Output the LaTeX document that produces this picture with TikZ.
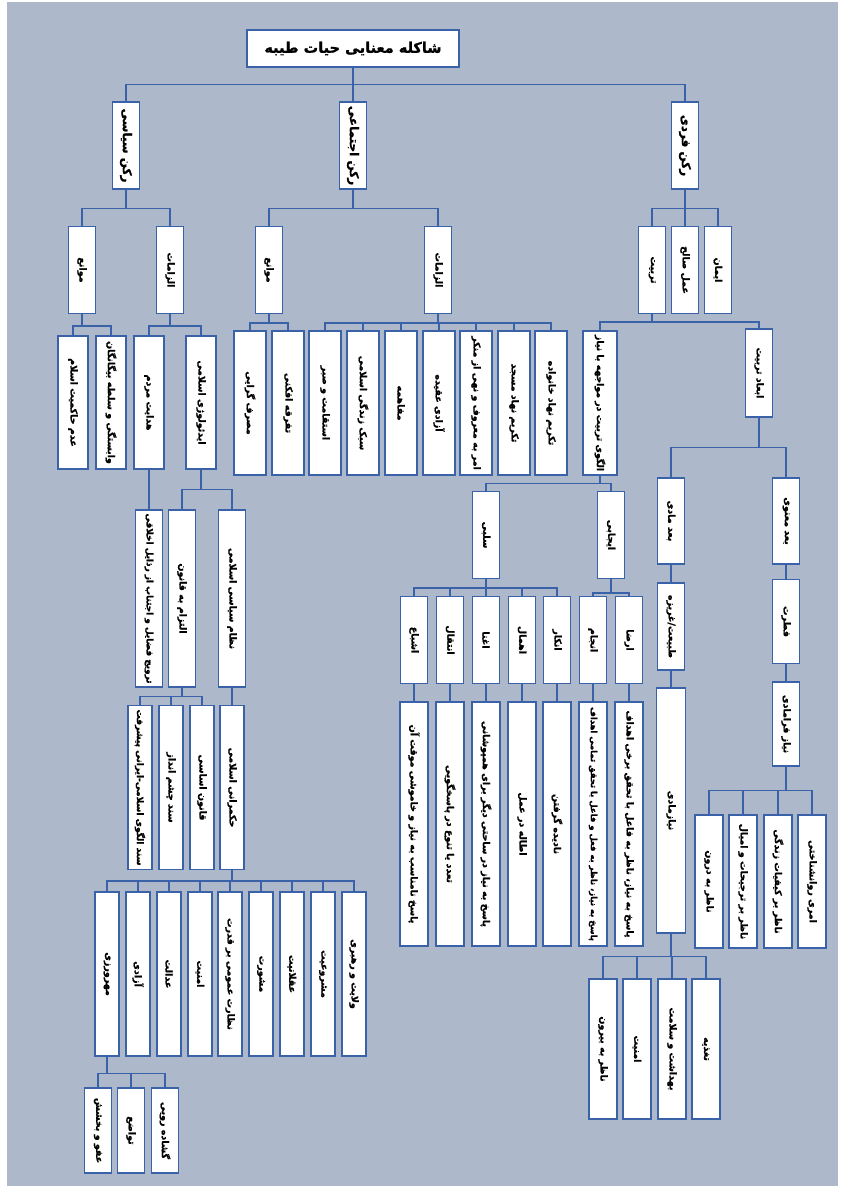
\documentclass[tikz,border=0pt]{standalone}
\usepackage{fontspec}
\usepackage{graphicx}
\newfontfamily\arabicfont[Script=Arabic, BoldFeatures={FakeBold=1.2}]{DejaVu Sans}
\TeXXeTstate=1
\definecolor{panel}{HTML}{ADB9CA}
\definecolor{edge}{HTML}{3A62A8}
\tikzstyle{box} = [
    rectangle,
    draw=edge,
    fill=white,
    line width=1.3pt,
    inner sep=1pt,
    font=\arabicfont\bfseries\fontsize{9.5}{11}\selectfont
]
\tikzstyle{titlebox} = [
    box,
    minimum width=212,
    minimum height=37,
    font=\arabicfont\bfseries\fontsize{14.5}{16}\selectfont
]
\tikzstyle{pillar} = [
    box,
    minimum width=27,
    minimum height=87,
    font=\arabicfont\bfseries\fontsize{12}{14}\selectfont
]
\tikzstyle{short} = [box, minimum width=27, minimum height=87]
\tikzstyle{mid} = [box, minimum width=30, minimum height=133]
\tikzstyle{midtall} = [box, minimum width=32, minimum height=144]
\tikzstyle{tall} = [box, minimum width=27, minimum height=177]
\tikzstyle{slim} = [box, minimum width=24, minimum height=164]
\tikzstyle{long} = [box, minimum width=28, minimum height=244]
\tikzstyle{conn} = [draw=edge, line width=1.4pt]
\newsavebox{\vtext}
\newcommand{\vt}[2][1000pt]{%
  \sbox{\vtext}{\beginR #2\endR}%
  \ifdim\wd\vtext>#1\relax
    \rotatebox{-90}{\resizebox{#1}{!}{\usebox{\vtext}}}%
  \else
    \rotatebox{-90}{\usebox{\vtext}}%
  \fi}

\begin{document}
\begin{tikzpicture}[x=1pt, y=-1pt]

\fill [white] (0,0) rectangle (845,1192);
\useasboundingbox (0,0) rectangle (845,1192);
\fill [panel] (7,2) rectangle (838,1186);

\node (root) [titlebox] at (353,48.5) {\beginR شاکله معنایی حیات طیبه\endR};

% three pillars
\node (political) [pillar] at (126,145.5) {\vt{رکن سیاسی}};
\node (social) [pillar] at (353,145.5) {\vt{رکن اجتماعی}};
\node (personal) [pillar] at (685,145.5) {\vt{رکن فردی}};

\node (polbarrier) [short] at (82,270) {\vt{موانع}};
\node (polreq) [short] at (170,270) {\vt{الزامات}};
\node (socbarrier) [short] at (269,270) {\vt{موانع}};
\node (socreq) [short] at (438,270) {\vt{الزامات}};
\node (training) [short] at (652,270) {\vt{تربیت}};
\node (deed) [short] at (685,270) {\vt{عمل صالح}};
\node (faith) [short] at (718,270) {\vt{ایمان}};

% political branch
\node (nosovereignty) [mid] at (73,402.5) {\vt{عدم حاکمیت اسلام}};
\node (dependence) [mid] at (111,402.5) {\vt[124pt]{وابستگی و سلطه بیگانگان}};
\node (guidance) [mid] at (149,402.5) {\vt{هدایت مردم}};
\node (ideology) [mid] at (201,402.5) {\vt{ایدئولوژی اسلامی}};

\node (virtues) [tall] at (149,598.5) {\vt[170pt]{ترویج فضایل و اجتناب از رذایل اخلاقی}};
\node (lawabiding) [tall] at (182,598.5) {\vt{التزام به قانون}};
\node (system) [tall] at (232,598.5) {\vt{نظام سیاسی اسلامی}};

\node (progressdoc) [slim] at (140,787.5) {\vt[156pt]{سند الگوی اسلامی-ایرانی پیشرفت}};
\node (visiondoc) [slim] at (171,787.5) {\vt{سند چشم انداز}};
\node (constitution) [slim] at (202,787.5) {\vt{قانون اساسی}};
\node (governance) [slim] at (232,787.5) {\vt{حکمرانی اسلامی}};

\node (kindness) [slim] at (107,974) {\vt{مهرورزی}};
\node (freedom) [slim] at (138,974) {\vt{آزادی}};
\node (justice) [slim] at (169,974) {\vt{عدالت}};
\node (security) [slim] at (200,974) {\vt{امنیت}};
\node (oversight) [slim] at (230,974) {\vt{نظارت عمومی بر قدرت}};
\node (consultation) [slim] at (261,974) {\vt{مشورت}};
\node (rationality) [slim] at (292,974) {\vt{عقلانیت}};
\node (legitimacy) [slim] at (323,974) {\vt{مشروعیت}};
\node (leadership) [slim] at (354,974) {\vt{ولایت و رهبری}};

\node (forgiveness) [short, minimum height=85] at (98,1130.5) {\vt{عفو و بخشش}};
\node (humility) [short, minimum height=85] at (131,1130.5) {\vt{تواضع}};
\node (cheerfulness) [short, minimum height=85] at (165,1130.5) {\vt{گشاده رویی}};

% social branch
\node (consumerism) [midtall] at (250,403) {\vt{مصرف گرایی}};
\node (division) [midtall] at (288,403) {\vt{تفرقه افکنی}};
\node (patience) [midtall] at (325,403) {\vt{استقامت و صبر}};
\node (lifestyle) [midtall] at (363,403) {\vt{سبک زندگی اسلامی}};
\node (dialogue) [midtall] at (401,403) {\vt{مفاهمه}};
\node (belief) [midtall] at (439,403) {\vt{آزادی عقیده}};
\node (enjoin) [midtall] at (476,403) {\vt[136pt]{امر به معروف و نهی از منکر}};
\node (mosque) [midtall] at (514,403) {\vt{تکریم نهاد مسجد}};
\node (family) [midtall] at (551,403) {\vt{تکریم نهاد خانواده}};

% personal branch
\node (pattern) [midtall, minimum width=34] at (600,403) {\vt[136pt]{الگوی تربیت در مواجهه با نیاز}};
\node (dimensions) [short, minimum height=88] at (759,373) {\vt{ابعاد تربیت}};

\node (negative) [short] at (486,535) {\vt{سلبی}};
\node (positive) [short] at (611,535) {\vt{ایجابی}};

\node (satiation) [short] at (414,640) {\vt{اشباع}};
\node (transfer) [short] at (450,640) {\vt{انتقال}};
\node (enrichment) [short] at (486,640) {\vt{اغنا}};
\node (neglect) [short] at (522,640) {\vt{اهمال}};
\node (denial) [short] at (557,640) {\vt{انکار}};
\node (performance) [short] at (593,640) {\vt{انجام}};
\node (satisfaction) [short] at (629,640) {\vt{ارضا}};

\node (satiationdesc) [long] at (414,824) {\vt[234pt]{پاسخ نامناسب به نیاز و خاموشی موقت آن}};
\node (transferdesc) [long] at (450,824) {\vt{تعدد یا تنوع در پاسخگویی}};
\node (enrichmentdesc) [long] at (486,824) {\vt[234pt]{پاسخ به نیاز در ساحتی دیگر برای همپوشانی}};
\node (neglectdesc) [long] at (522,824) {\vt{اطاله در عمل}};
\node (denialdesc) [long] at (557,824) {\vt{نادیده گرفتن}};
\node (performancedesc) [long] at (593,824) {\vt[234pt]{پاسخ به نیاز، ناظر به فعل و فاعل با تحقق تمامی اهداف}};
\node (satisfactiondesc) [long] at (629,824) {\vt[234pt]{پاسخ به نیاز، ناظر به فاعل با تحقق برخی اهداف}};

\node (material) [short, minimum height=86] at (671,521) {\vt{بعد مادی}};
\node (spiritual) [short, minimum height=86] at (786,521) {\vt{بعد معنوی}};
\node (instinct) [short] at (671,626.5) {\vt{طبیعت/غریزه}};
\node (innate) [short, minimum height=84] at (786,621.5) {\vt{فطرت}};
\node (matneed) [long, minimum width=29, minimum height=245] at (671,810.5) {\vt{نیازمادی}};
\node (metaneed) [short, minimum height=84] at (786,724) {\vt{نیاز فرامادی}};

\node (outward) [mid, minimum width=28, minimum height=140] at (603,1049) {\vt{ناظر به بیرون}};
\node (safety) [mid, minimum width=28, minimum height=140] at (637,1049) {\vt{امنیت}};
\node (hygiene) [mid, minimum width=28, minimum height=140] at (672,1049) {\vt{بهداشت و سلامت}};
\node (nutrition) [mid, minimum width=28, minimum height=140] at (706,1049) {\vt{تغذیه}};

\node (inward) [mid, minimum width=28] at (709,881.5) {\vt{ناظر به درون}};
\node (desires) [mid, minimum width=28] at (743,881.5) {\vt[124pt]{ناظر بر ترجیحات و امیال}};
\node (quality) [mid, minimum width=28] at (778,881.5) {\vt{ناظر بر کیفیات زندگی}};
\node (psychological) [mid, minimum width=28] at (812,881.5) {\vt{امری روانشناختی}};

% connectors
\draw [conn] (root.south) -- ++(0,17) -| (political.north);
\draw [conn] (root.south) -- (social.north);
\draw [conn] (root.south) -- ++(0,17) -| (personal.north);

\draw [conn] (political.south) -- ++(0,19) -| (polbarrier.north);
\draw [conn] (political.south) -- ++(0,19) -| (polreq.north);
\draw [conn] (social.south) -- ++(0,19) -| (socbarrier.north);
\draw [conn] (social.south) -- ++(0,19) -| (socreq.north);
\draw [conn] (personal.south) -- ++(0,19) -| (training.north);
\draw [conn] (personal.south) -- (deed.north);
\draw [conn] (personal.south) -- ++(0,19) -| (faith.north);

\draw [conn] (polbarrier.south) -- ++(0,12) -| (nosovereignty.north);
\draw [conn] (polbarrier.south) -- ++(0,12) -| (dependence.north);
\draw [conn] (polreq.south) -- ++(0,12) -| (guidance.north);
\draw [conn] (polreq.south) -- ++(0,12) -| (ideology.north);
\draw [conn] (guidance.south) -- (virtues.north);
\draw [conn] (ideology.south) -- ++(0,20) -| (lawabiding.north);
\draw [conn] (ideology.south) -- ++(0,20) -| (system.north);
\draw [conn] (lawabiding.south) -- ++(0,9) -| (progressdoc.north);
\draw [conn] (lawabiding.south) -- ++(0,9) -| (visiondoc.north);
\draw [conn] (lawabiding.south) -- ++(0,9) -| (constitution.north);
\draw [conn] (system.south) -- (governance.north);
\draw [conn] (governance.south) -- ++(0,11) -| (kindness.north);
\draw [conn] (governance.south) -- ++(0,11) -| (freedom.north);
\draw [conn] (governance.south) -- ++(0,11) -| (justice.north);
\draw [conn] (governance.south) -- ++(0,11) -| (security.north);
\draw [conn] (governance.south) -- ++(0,11) -| (oversight.north);
\draw [conn] (governance.south) -- ++(0,11) -| (consultation.north);
\draw [conn] (governance.south) -- ++(0,11) -| (rationality.north);
\draw [conn] (governance.south) -- ++(0,11) -| (legitimacy.north);
\draw [conn] (governance.south) -- ++(0,11) -| (leadership.north);
\draw [conn] (kindness.south) -- ++(0,17) -| (forgiveness.north);
\draw [conn] (kindness.south) -- ++(0,17) -| (humility.north);
\draw [conn] (kindness.south) -- ++(0,17) -| (cheerfulness.north);

\draw [conn] (socbarrier.south) -- ++(0,9) -| (consumerism.north);
\draw [conn] (socbarrier.south) -- ++(0,9) -| (division.north);
\draw [conn] (socreq.south) -- ++(0,9) -| (patience.north);
\draw [conn] (socreq.south) -- ++(0,9) -| (lifestyle.north);
\draw [conn] (socreq.south) -- ++(0,9) -| (dialogue.north);
\draw [conn] (socreq.south) -- ++(0,9) -| (belief.north);
\draw [conn] (socreq.south) -- ++(0,9) -| (enjoin.north);
\draw [conn] (socreq.south) -- ++(0,9) -| (mosque.north);
\draw [conn] (socreq.south) -- ++(0,9) -| (family.north);

\draw [conn] (training.south) -- ++(0,8) -| (pattern.north);
\draw [conn] (training.south) -- ++(0,8) -| (dimensions.north);
\draw [conn] (pattern.south) -- ++(0,8) -| (negative.north);
\draw [conn] (pattern.south) -- ++(0,8) -| (positive.north);
\draw [conn] (negative.south) -- ++(0,9) -| (satiation.north);
\draw [conn] (negative.south) -- ++(0,9) -| (transfer.north);
\draw [conn] (negative.south) -- (enrichment.north);
\draw [conn] (negative.south) -- ++(0,9) -| (neglect.north);
\draw [conn] (negative.south) -- ++(0,9) -| (denial.north);
\draw [conn] (positive.south) -- ++(0,14) -| (performance.north);
\draw [conn] (positive.south) -- ++(0,14) -| (satisfaction.north);
\draw [conn] (satiation.south) -- (satiationdesc.north);
\draw [conn] (transfer.south) -- (transferdesc.north);
\draw [conn] (enrichment.south) -- (enrichmentdesc.north);
\draw [conn] (neglect.south) -- (neglectdesc.north);
\draw [conn] (denial.south) -- (denialdesc.north);
\draw [conn] (performance.south) -- (performancedesc.north);
\draw [conn] (satisfaction.south) -- (satisfactiondesc.north);

\draw [conn] (dimensions.south) -- ++(0,30) -| (material.north);
\draw [conn] (dimensions.south) -- ++(0,30) -| (spiritual.north);
\draw [conn] (material.south) -- (instinct.north);
\draw [conn] (instinct.south) -- (matneed.north);
\draw [conn] (spiritual.south) -- (innate.north);
\draw [conn] (innate.south) -- (metaneed.north);
\draw [conn] (matneed.south) -- ++(0,23) -| (outward.north);
\draw [conn] (matneed.south) -- ++(0,23) -| (safety.north);
\draw [conn] (matneed.south) -- ++(0,23) -| (hygiene.north);
\draw [conn] (matneed.south) -- ++(0,23) -| (nutrition.north);
\draw [conn] (metaneed.south) -- ++(0,24) -| (inward.north);
\draw [conn] (metaneed.south) -- ++(0,24) -| (desires.north);
\draw [conn] (metaneed.south) -- ++(0,24) -| (quality.north);
\draw [conn] (metaneed.south) -- ++(0,24) -| (psychological.north);

\end{tikzpicture}
\end{document}
